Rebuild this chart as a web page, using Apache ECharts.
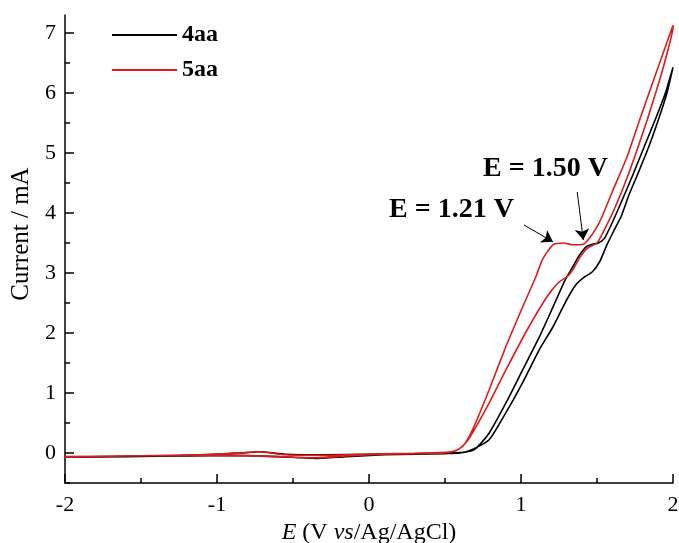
<!DOCTYPE html>
<html>
<head>
<meta charset="utf-8">
<script src="https://cdn.jsdelivr.net/npm/echarts@6/dist/echarts.min.js"></script>
<style>
  html, body { margin: 0; padding: 0; background: #fff; }
  #chart { width: 679px; height: 543px; }
</style>
</head>
<body>
<div id="chart"></div>
<script>
// 4aa, lower branch (sweep -2 -> 2 V)
const e4aaFwd = [-2.0, -1.6, -1.2, -0.9, -0.6, -0.35, -0.15, 0.1, 0.3, 0.5, 0.6, 0.68, 0.79, 0.90, 1.01, 1.12, 1.21, 1.30, 1.36, 1.41, 1.47, 1.52, 1.56, 1.61, 1.66, 1.71, 1.76, 1.84, 1.91, 1.96, 2.0]
const i4aaFwd = [-0.07, -0.06, -0.05, -0.04, -0.06, -0.09, -0.06, -0.03, -0.02, -0.01, 0.0, 0.06, 0.22, 0.67, 1.17, 1.72, 2.1, 2.55, 2.8, 2.92, 3.02, 3.2, 3.44, 3.7, 3.95, 4.3, 4.6, 5.1, 5.6, 6.0, 6.43]
// 4aa, upper branch (sweep 2 -> -2 V)
const e4aaRev = [2.0, 1.95, 1.89, 1.81, 1.73, 1.68, 1.62, 1.55, 1.51, 1.47, 1.43, 1.38, 1.34, 1.29, 1.21, 1.12, 1.01, 0.90, 0.79, 0.70, 0.62, 0.5, 0.3, 0.0, -0.3, -0.55, -0.72, -0.85, -1.1, -1.5, -2.0]
const i4aaRev = [6.43, 6.0, 5.6, 5.1, 4.6, 4.3, 3.95, 3.58, 3.5, 3.48, 3.44, 3.28, 3.1, 2.88, 2.43, 1.93, 1.38, 0.83, 0.33, 0.07, 0.01, 0.0, -0.01, -0.02, -0.03, -0.02, 0.02, 0.0, -0.03, -0.05, -0.07]

// 5aa, lower branch
const e5aaFwd = [-2.0, -1.6, -1.2, -0.9, -0.6, -0.35, -0.15, 0.1, 0.3, 0.5, 0.58, 0.64, 0.68, 0.79, 0.90, 1.04, 1.17, 1.25, 1.30, 1.34, 1.39, 1.44, 1.50, 1.56, 1.62, 1.70, 1.77, 1.83, 1.91, 1.97, 2.0]
const i5aaFwd = [-0.06, -0.05, -0.04, -0.04, -0.06, -0.08, -0.05, -0.02, -0.01, 0.0, 0.05, 0.18, 0.33, 0.83, 1.38, 2.05, 2.6, 2.85, 2.93, 3.05, 3.27, 3.42, 3.5, 3.78, 4.1, 4.6, 5.1, 5.55, 6.2, 6.75, 7.1]
// 5aa, upper branch
const e5aaRev = [2.0, 1.94, 1.87, 1.78, 1.70, 1.60, 1.53, 1.50, 1.45, 1.41, 1.34, 1.28, 1.21, 1.14, 1.10, 1.01, 0.90, 0.79, 0.68, 0.62, 0.56, 0.4, 0.2, 0.0, -0.3, -0.55, -0.72, -0.85, -1.2, -1.6, -2.0]
const i5aaRev = [7.13, 6.7, 6.2, 5.55, 4.95, 4.35, 3.92, 3.77, 3.58, 3.48, 3.47, 3.5, 3.47, 3.22, 2.95, 2.43, 1.77, 1.05, 0.38, 0.12, 0.03, 0.0, -0.01, -0.02, -0.04, -0.03, 0.02, 0.0, -0.04, -0.05, -0.07]

const yTicks = [0, 1, 2, 3, 4, 5, 6, 7]
const yMinorTicks = [-0.5, 0.5, 1.5, 2.5, 3.5, 4.5, 5.5, 6.5]

// arrows [start, end] in data units
const arrow121 = [[1.02, 3.8], [1.21, 3.52]]
const arrow150 = [[1.37, 4.35], [1.41, 3.55]]

const serif = '"Liberation Serif", "Times New Roman", serif'

function pairs (xs, ys) {
  return xs.map((x, k) => [x, ys[k]])
}

let myChart = echarts.init(document.getElementById('chart'))

const axisBlack = { color: '#000', width: 1.5 }

myChart.setOption({
  animation: false,
  grid: { left: 65, right: 6, top: 15, bottom: 60, outerBoundsMode: 'none', containLabel: false },
  legend: {
    orient: 'vertical',
    left: 107,
    top: 18,
    icon: 'rect',
    itemWidth: 65,
    itemHeight: 2,
    itemGap: 11,
    textStyle: { fontFamily: serif, fontWeight: 'bold', fontSize: 24, color: '#000', lineHeight: 24 },
    data: ['4aa', '5aa']
  },
  xAxis: {
    type: 'value',
    min: -2,
    max: 2,
    interval: 1,
    axisLine: { onZero: false, lineStyle: axisBlack },
    axisTick: { inside: true, length: 9, lineStyle: axisBlack },
    minorTick: { show: true, splitNumber: 2, length: 5, lineStyle: axisBlack },
    splitLine: { show: false },
    axisLabel: { color: '#000', fontSize: 22, fontFamily: serif, margin: 11 },
    name: '{i|E} (V {i|vs}/Ag/AgCl)',
    nameLocation: 'middle',
    nameGap: 33,
    nameTextStyle: {
      color: '#000',
      fontSize: 24,
      fontFamily: serif,
      rich: {
        i: { fontStyle: 'italic', fontSize: 24, fontFamily: serif, color: '#000' }
      }
    }
  },
  yAxis: [
    {
      type: 'value',
      min: -0.5,
      max: 7.3,
      position: 'left',
      axisLine: { onZero: false, lineStyle: axisBlack },
      axisTick: { inside: true, length: 9, lineStyle: axisBlack, customValues: yTicks },
      splitLine: { show: false },
      axisLabel: { color: '#000', fontSize: 22, fontFamily: serif, margin: 9, customValues: yTicks },
      name: 'Current / mA',
      nameLocation: 'middle',
      nameGap: 25,
      nameTextStyle: { color: '#000', fontSize: 25, fontFamily: serif, padding: [0, 0, 0, 30] }
    },
    {
      // 半刻度
      type: 'value',
      min: -0.5,
      max: 7.3,
      position: 'left',
      axisLine: { show: false, onZero: false },
      axisTick: { inside: true, length: 5, lineStyle: axisBlack, customValues: yMinorTicks },
      axisLabel: { show: false },
      splitLine: { show: false }
    }
  ],
  graphic: [
    {
      type: 'text',
      left: 483,
      top: 155,
      style: { text: 'E = 1.50 V', font: 'bold 28px ' + serif, fill: '#000' }
    },
    {
      type: 'text',
      left: 389,
      top: 196,
      style: { text: 'E = 1.21 V', font: 'bold 28px ' + serif, fill: '#000' }
    }
  ],
  series: [
    {
      name: '4aa',
      type: 'line',
      showSymbol: false,
      symbol: 'none',
      smooth: 0.2,
      color: '#000',
      lineStyle: { color: '#000', width: 1.6 },
      data: pairs(e4aaFwd, i4aaFwd).concat(pairs(e4aaRev, i4aaRev))
    },
    {
      name: '5aa',
      type: 'line',
      showSymbol: false,
      symbol: 'none',
      smooth: 0.2,
      color: '#dd1c1c',
      lineStyle: { color: '#dd1c1c', width: 1.6 },
      data: pairs(e5aaFwd, i5aaFwd).concat(pairs(e5aaRev, i5aaRev)),
      markLine: {
        silent: true,
        symbol: ['none', 'arrow'],
        symbolSize: 11,
        label: { show: false },
        lineStyle: { color: '#000', width: 1, type: 'solid' },
        emphasis: { disabled: true },
        data: [
          [{ coord: arrow121[0] }, { coord: arrow121[1] }],
          [{ coord: arrow150[0] }, { coord: arrow150[1] }]
        ]
      }
    }
  ]
})
</script>
</body>
</html>
